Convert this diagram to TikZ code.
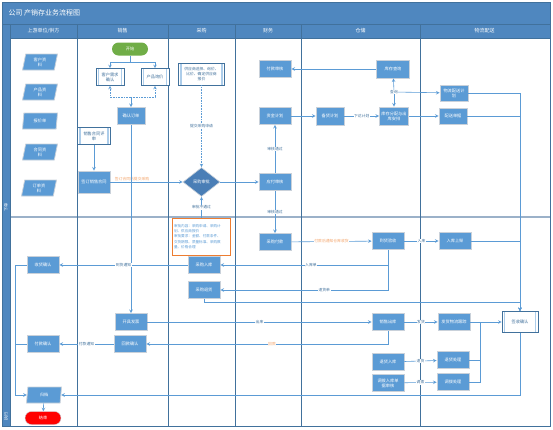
\documentclass[tikz,border=0pt]{standalone}
\usepackage{fontspec}
\newfontfamily\cjk{Noto Sans CJK SC}
\usetikzlibrary{shapes}
\usetikzlibrary{positioning}

\definecolor{bandblue}{HTML}{4F87BF}
\definecolor{laneline}{HTML}{41719C}
\definecolor{boxblue}{HTML}{5B9BD5}
\definecolor{boxedge}{HTML}{C9D1DA}
\definecolor{linkblue}{HTML}{5B9BD5}
\definecolor{phaseline}{HTML}{9BB1C9}
\definecolor{noteorange}{HTML}{ED7D31}
\definecolor{lblorange}{HTML}{F4A46A}
\definecolor{startgreen}{HTML}{70AD47}
\definecolor{diablue}{HTML}{4A7EB6}

\begin{document}
\begin{tikzpicture}[x=1pt,y=-1pt,>=stealth,
	every node/.style={font=\cjk\fontsize{4.2}{5}\selectfont},
	task node/.style={rectangle, fill=boxblue, draw=boxedge, line width=0.8pt, text=white,
		minimum width=32pt, minimum height=17pt, inner sep=0.5pt, align=center},
	sub node/.style={rectangle, fill=white, draw=laneline, line width=0.6pt, text=laneline,
		minimum width=28pt, minimum height=17pt, inner sep=0.5pt, align=center,
		path picture={
			\draw[boxblue!50, line width=1.4pt] ([xshift=2.5pt]path picture bounding box.south west) -- ([xshift=2.5pt]path picture bounding box.north west);
			\draw[boxblue!50, line width=1.4pt] ([xshift=-2.5pt]path picture bounding box.south east) -- ([xshift=-2.5pt]path picture bounding box.north east);}},
	io node/.style={trapezium, trapezium left angle=70, trapezium right angle=110, trapezium stretches body,
		fill=boxblue, draw=boxedge, line width=0.8pt, text=white, minimum width=35pt, minimum height=16pt,
		inner sep=0pt, align=center},
	term node/.style={rectangle, rounded corners=6.5pt, text=white, minimum width=36pt, minimum height=13pt, inner sep=0pt},
	decision node/.style={diamond, fill=diablue, draw=boxedge, line width=0.6pt, text=white,
		minimum width=37pt, minimum height=29pt, inner sep=0pt},
	note node/.style={rectangle, draw=noteorange, line width=0.9pt, fill=white, text=boxblue, align=left,
		text width=55pt, minimum height=37pt, inner sep=1.5pt, font=\cjk\fontsize{3.6}{5.2}\selectfont},
	link/.style={->, draw=linkblue, line width=0.6pt},
	lbl/.style={fill=white, inner sep=0.6pt, text=laneline, font=\cjk\fontsize{3.8}{4.5}\selectfont},
	olbl/.style={lbl, text=lblorange},
	lane line/.style={draw=laneline, line width=0.8pt},
	lane head/.style={text=white, font=\cjk\fontsize{5}{6}\selectfont}]

	\useasboundingbox (0,0) rectangle (553,429);

	% bands and lanes
	\fill[bandblue] (2,2) rectangle (550,38);
	\fill[bandblue] (2,38) rectangle (10,426);
	\draw[phaseline, line width=1.6pt] (10,217) -- (550,217);
	\foreach \x in {10,77,168,235,301,420}
		\draw[lane line] (\x,24) -- (\x,426);
	\draw[lane line] (2,24) -- (550,24);
	\draw[lane line] (10,38) -- (550,38);
	\draw[lane line] (2,2) rectangle (550,426);

	\node[anchor=west, text=white, font=\cjk\fontsize{7}{8}\selectfont] at (5,13) (title) {公司 产销存业务流程图};
	\node[lane head] at (43.5,31) (h1) {上游单位/供方};
	\node[lane head] at (122.5,31) (h2) {销售};
	\node[lane head] at (201.5,31) (h3) {采购};
	\node[lane head] at (268,31) (h4) {财务};
	\node[lane head] at (360.5,31) (h5) {仓储};
	\node[lane head] at (484.5,31) (h6) {物流配送};
	\node[rotate=90, anchor=west, text=white] at (6,215) (ph1) {下单};
	\node[rotate=90, anchor=west, text=white] at (6,424) (ph2) {执行};

	% lane 1
	\node[io node] at (40,62) (p1) {客户资\\料};
	\node[io node] at (40,92) (p2) {产品资\\料};
	\node[io node] at (40,121) (p3) {报价单};
	\node[io node] at (40,152) (p4) {合同资\\料};
	\node[io node] at (39,188) (p5) {订单资\\料};
	\node[task node] at (43,265) (c1) {收货确认};
	\node[task node] at (43,344) (c2) {付款确认};
	\node[io node] at (44,395) (pe) {归档};
	\node[term node, fill=red, draw=boxedge] at (43,418) (e) {结束};

	% lane 2
	\node[term node, fill=startgreen] at (130,49) (st) {开始};
	\node[sub node] at (110,77) (s1) {客户需求\\确认};
	\node[sub node] at (155,77) (s2) {产品询价};
	\node[task node, minimum width=28pt] at (131,116) (s3) {确认订单};
	\node[sub node, minimum width=33pt] at (94,136) (s4) {销售合同评\\审};
	\node[task node, minimum height=22pt] at (94,182) (s5) {签订销售合同};
	\node[task node] at (131,322) (s6) {开具发票};
	\node[task node] at (130,344) (s7) {回款确认};

	% lane 3
	\node[sub node, minimum width=46pt, minimum height=22pt, font=\cjk\fontsize{3.8}{4.6}\selectfont] at (201.5,74) (b1) {供应商选择、询价、\\比价、确定供应商\\报价};
	\node[decision node] at (201.5,182) (dia) {采购审批};
	\node[note node] at (201.5,236.5) (nt) {审批内容：采购申请、采购计\\划、供应商报价\\审批要求：金额、付款条件、\\交货期限、质量标准、采购数\\量、价格合理};
	\node[task node] at (204,265) (b2) {采购入库};
	\node[task node] at (204,290) (b3) {采购退货};

	% lane 4
	\node[task node] at (275,69) (f1) {付款审核};
	\node[task node] at (275,116) (f2) {资金计划};
	\node[task node] at (275,182) (f3) {应付审核};
	\node[task node] at (275,242) (f4) {采购付款};

	% lane 5
	\node[task node, minimum width=33pt, minimum height=18pt] at (393,69) (w1) {库存查询};
	\node[task node, minimum width=28pt, minimum height=18pt] at (330,116) (w2) {备货计划};
	\node[task node, minimum width=29pt, minimum height=18pt] at (394,116) (w3) {库存分配与出\\库安排};
	\node[task node] at (388,241) (w4) {到货验收};
	\node[task node] at (388,322) (w5) {销售出库};
	\node[task node] at (388,362) (w6) {退货入库};
	\node[task node] at (388,383) (w7) {调拨入库单\\据审核};

	% lane 6
	\node[task node, minimum width=28pt, minimum height=16pt] at (454,93) (d1) {物流配送计\\划};
	\node[task node, minimum width=28pt, minimum height=16pt] at (453,116) (d2) {配送单据};
	\node[task node] at (455,241) (d3) {入库上架};
	\node[task node] at (454,322) (d4) {发货物流跟踪};
	\node[task node] at (453,360) (d5) {退货处理};
	\node[task node] at (453,382) (d6) {调拨处理};
	\node[sub node, minimum width=36pt, minimum height=21pt] at (520,322) (d7) {签收确认};

	\coordinate (j1) at (130,62);
	\coordinate (j2) at (131,97);
	\coordinate (j3) at (394,92);
	\coordinate (k1) at (204,302);
	\coordinate (k2) at (480,322);
	\coordinate (k3) at (15,265);

	% connectors
	\draw[link,-] (st) -- (j1);
	\draw[link] (j1) -| (s1);
	\draw[link] (j1) -| (s2);
	\draw[link, densely dotted] (j2) -| (s1);
	\draw[link, densely dotted] (j2) -| (s2);
	\draw[link] (j2) -- (s3);
	\path
	(s4) edge[link] (s5)
	(s5) edge[link] node[olbl, pos=0.3, above=0.3pt] {签订合同后提交采购} (dia)
	(s3) edge[link] (s6)
	(b1) edge[link, densely dotted] node[lbl] {提交采购申请} (dia)
	(nt) edge[link] node[lbl] {审批不通过} (dia)
	(dia) edge[link] (f3)
	(f3) edge[link] node[lbl] {审核通过} (f2)
	(f3) edge[link] node[lbl] {审核通过} (f4)
	(f2) edge[link] (w2)
	(w2) edge[link] node[lbl] {下达计划} (w3)
	(w1) edge[link] (f1)
	(w3) edge[link] (d2)
	;
	\draw[link] (j3) -- (w1);
	\draw[link] (j3) -- (w3);
	\draw[link] (j3) -- (d1);
	\node[lbl] at (j3) (q) {查询};

	\draw[link] (d1) -| (d7);
	\draw[link] (d2) -| (d7);
	\draw[link] (d3) -| (d7);
	\draw[link] (b3) -- (k1) -| (d7);
	\draw[link,-] (d5) -| (k2);
	\draw[link,-] (d6) -| (k2);
	\draw[link] (d7) |- (pe);
	\path
	(d4) edge[link] (d7)
	(f4) edge[link] node[olbl] {付款后通知仓库收货} (w4)
	(w4) edge[link] node[lbl] {入库} (d3)
	(s6) edge[link] node[lbl] {出库} (w5)
	(w5) edge[link] node[lbl] {发货} (d4)
	(w6) edge[link] node[lbl] {退货} (d5)
	(w7) edge[link] node[lbl] {调拨} (d6)
	(b2) edge[link] node[lbl] {到货通知} (c1)
	(s7) edge[link] node[lbl] {付款通知} (c2)
	(pe) edge[link] (e)
	;
	\draw[link] (w4) |- node[lbl, pos=0.73] {入库单} (b2);
	\draw[link] (w4) |- node[lbl, pos=0.69] {退货单} (b3);
	\draw[link] (w5) |- node[olbl, pos=0.74] {回款} (s7);
	\draw[link] (c1) -- (k3) |- (pe);
	\draw[link,-] (c2) -- (c2 -| k3);

\end{tikzpicture}
\end{document}
